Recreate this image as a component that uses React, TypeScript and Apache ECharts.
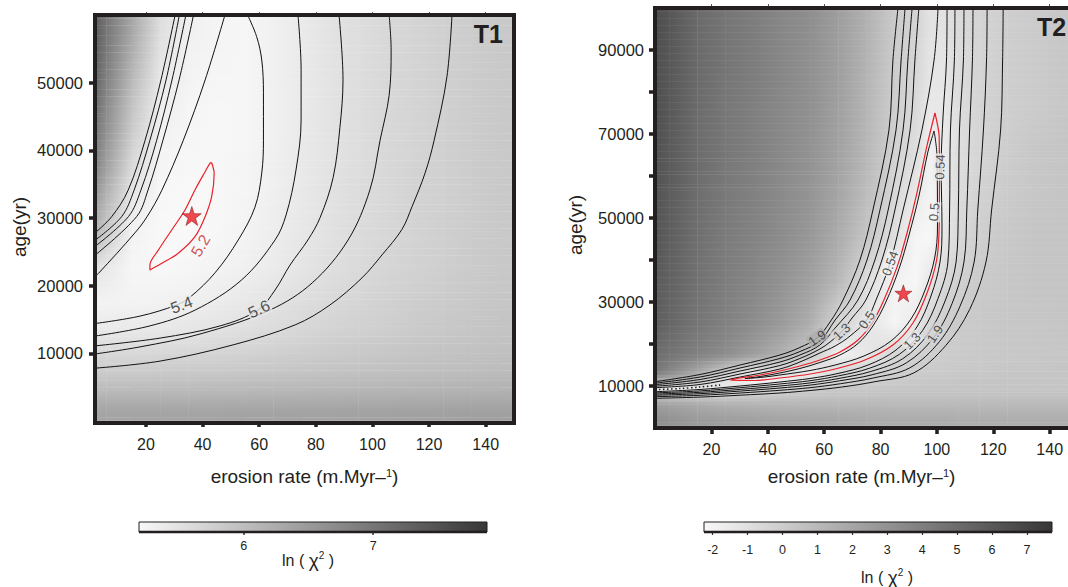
import React, { useEffect, useRef } from "react";
import * as echarts from "echarts";

const FONT = "'Liberation Sans', Arial, Helvetica, sans-serif";
const INK = "#231f20";

/* ================= Panel T1 ================= */
const T1_X_TICKS = [20, 40, 60, 80, 100, 120, 140];
const T1_Y_TICKS = [10000, 20000, 30000, 40000, 50000];
const T1_CBAR_TICKS = [6, 7];
const T1_CBAR_MIN = 5.19;
const T1_CBAR_MAX = 7.88;

// background ln(chi2) cells (rows bottom -> top)
const T1_X_EDGES = [2, 10, 20, 30, 40, 50, 60, 70, 80, 90, 100, 110, 120, 130, 140, 150];
const T1_Y_EDGES = [-300, 3000, 6000, 9000, 12000, 15000, 20000, 25000, 30000, 35000, 40000, 45000, 50000, 55000, 60000];
const T1_LN_CHI2 = [
  [6.36, 6.36, 6.36, 6.36, 6.36, 6.37, 6.37, 6.38, 6.38, 6.39, 6.39, 6.4, 6.4, 6.41, 6.41],
  [6.05, 6.05, 6.06, 6.06, 6.07, 6.08, 6.09, 6.1, 6.11, 6.12, 6.13, 6.14, 6.15, 6.16, 6.17],
  [5.8, 5.8, 5.81, 5.82, 5.83, 5.85, 5.87, 5.89, 5.91, 5.93, 5.95, 5.97, 5.99, 6.0, 6.02],
  [5.6, 5.6, 5.61, 5.63, 5.66, 5.69, 5.73, 5.77, 5.81, 5.84, 5.87, 5.9, 5.92, 5.94, 5.96],
  [5.4, 5.4, 5.42, 5.45, 5.49, 5.54, 5.6, 5.65, 5.7, 5.74, 5.78, 5.82, 5.86, 5.89, 5.92],
  [5.26, 5.27, 5.28, 5.31, 5.36, 5.42, 5.49, 5.56, 5.62, 5.68, 5.73, 5.78, 5.82, 5.86, 5.89],
  [5.4, 5.22, 5.2, 5.22, 5.26, 5.31, 5.38, 5.46, 5.54, 5.61, 5.67, 5.72, 5.77, 5.82, 5.86],
  [5.8, 5.27, 5.19, 5.19, 5.21, 5.26, 5.34, 5.43, 5.51, 5.59, 5.65, 5.71, 5.76, 5.81, 5.85],
  [6.1, 5.4, 5.2, 5.19, 5.2, 5.24, 5.32, 5.41, 5.5, 5.58, 5.64, 5.7, 5.75, 5.8, 5.84],
  [6.4, 5.6, 5.23, 5.2, 5.2, 5.23, 5.31, 5.4, 5.49, 5.57, 5.64, 5.7, 5.75, 5.8, 5.84],
  [6.6, 5.8, 5.28, 5.22, 5.2, 5.22, 5.3, 5.39, 5.48, 5.56, 5.63, 5.69, 5.75, 5.8, 5.84],
  [6.75, 5.95, 5.35, 5.24, 5.21, 5.22, 5.3, 5.39, 5.48, 5.56, 5.63, 5.69, 5.75, 5.8, 5.84],
  [6.9, 6.15, 5.45, 5.27, 5.23, 5.22, 5.3, 5.39, 5.48, 5.56, 5.63, 5.69, 5.75, 5.8, 5.84],
  [7.0, 6.3, 5.55, 5.3, 5.25, 5.22, 5.3, 5.39, 5.48, 5.56, 5.63, 5.69, 5.75, 5.8, 5.84],
];

// contour lines [erosion rate, age]
const T1_A1 = [[30.3, 60000], [25.3, 50400], [19.7, 41500], [13.7, 34100], [7.9, 30200], [2, 27800]];
const T1_A2 = [[31.8, 60000], [27.1, 50400], [21.4, 41500], [15.8, 34100], [11.4, 30200], [2, 26700]];
const T1_A3 = [[34.1, 60000], [29.2, 50400], [23.8, 41500], [18.2, 34100], [13.8, 30200], [2, 25800]];
const T1_A4 = [[36.8, 60000], [31.7, 50400], [26.0, 41500], [20.7, 34100], [16.7, 30200], [2, 24500]];
const T1_A5 = [[47.9, 60000], [40.9, 50400], [33.2, 41500], [25.6, 34100], [20.4, 30200], [16.1, 27800], [3.2, 21800], [2, 21400]];
const T1_B1 = [[55.9, 60000], [59.1, 56800], [60.9, 53350], [61.5, 48500], [61.5, 41500], [60.9, 36650], [58.5, 31600], [52.6, 26750], [44.4, 21900], [35.6, 18300], [30.9, 17150], [17.9, 15500], [2, 14400]];
const T1_B2 = [[73.7, 60000], [74.8, 51900], [74.8, 44500], [73.0, 37100], [69.5, 30450], [65.6, 26750], [53.8, 20850], [37.4, 16400], [21.4, 14050], [2, 12550]];
const T1_B3 = [[88.2, 60000], [89.6, 50400], [88.5, 43350], [86.1, 35950], [81.5, 30050], [77.2, 26750], [70.9, 23050], [65.6, 19350], [59.6, 16400], [46.2, 14050], [25.0, 12250], [2, 11100]];
const T1_B4 = [[105.9, 60000], [106.6, 54850], [105.9, 48150], [102.7, 41500], [99.1, 34150], [91.4, 26750], [78.7, 20400], [63.8, 16400], [39.1, 12850], [17.9, 10950], [2, 9900]];
const T1_B5 = [[128.1, 60000], [126.3, 50850], [121.8, 41500], [118.6, 36650], [114.0, 31700], [110.4, 28300], [103.4, 24550], [96.3, 21150], [85.0, 17150], [72.7, 14200], [50.8, 11250], [25.0, 8850], [2, 7800]];
const T1_CONTOURS = [T1_A1, T1_A2, T1_A3, T1_A4, T1_A5, T1_B1, T1_B2, T1_B3, T1_B4, T1_B5];
const T1_RED = [[43.2, 38170], [44.1, 36600], [43.2, 33140], [40.9, 30190], [37.3, 27230], [31.4, 24780], [25.6, 23300], [21.4, 22310], [21.4, 23050], [24.4, 25270], [29.1, 28230], [33.8, 31190], [37.3, 34140], [40.9, 36840], [42.6, 38080], [43.2, 38170]];
const T1_BEST = [36.2, 30300];
const T1_LABELS = [[32.6, 17150, "5.4", 20], [59.9, 16550, "5.6", 25]];
const T1_RED_LABELS = [[39.3, 25900, "5.2", 60]];

/* ================= Panel T2 ================= */
const T2_X_TICKS = [20, 40, 60, 80, 100, 120, 140];
const T2_Y_TICKS = [10000, 20000, 30000, 40000, 50000, 60000, 70000, 80000, 90000];
const T2_Y_LABELS = [10000, 30000, 50000, 70000, 90000];
const T2_CBAR_TICKS = [-2, -1, 0, 1, 2, 3, 4, 5, 6, 7];
const T2_CBAR_MIN = -2.25;
const T2_CBAR_MAX = 7.72;

const T2_X_EDGES = [0, 10, 20, 30, 40, 50, 60, 70, 80, 90, 95, 100, 105, 110, 120, 130, 140, 150];
const T2_Y_EDGES = [0, 4000, 7000, 8500, 10000, 12000, 15000, 20000, 30000, 40000, 50000, 60000, 70000, 80000, 90000, 100000];
const T2_LN_CHI2 = [
  [3.0, 2.6, 2.4, 2.3, 2.1, 2.0, 1.9, 1.8, 1.7, 1.7, 1.7, 1.7, 1.6, 1.6, 1.6, 1.6, 1.6],
  [2.2, 1.8, 1.5, 1.3, 1.2, 1.2, 1.1, 1.1, 1.0, 1.0, 1.0, 1.0, 1.0, 1.0, 1.0, 1.0, 1.0],
  [0.1, -0.2, -0.2, 0.1, 0.3, 0.4, 0.5, 0.5, 0.5, 0.5, 0.5, 0.5, 0.5, 0.5, 0.5, 0.5, 0.5],
  [-1.8, -1.8, -1.2, -0.5, -0.2, 0.1, 0.3, 0.3, 0.4, 0.4, 0.4, 0.4, 0.4, 0.4, 0.4, 0.4, 0.4],
  [1.2, 0.1, -1.4, -2.0, -1.8, -1.0, -0.4, -0.1, 0.1, 0.2, 0.3, 0.3, 0.4, 0.4, 0.4, 0.4, 0.4],
  [3.6, 2.0, 0.1, -1.2, -0.9, -1.7, -0.7, -0.4, -0.1, 0.0, 0.1, 0.1, 0.2, 0.2, 0.3, 0.3, 0.4],
  [4.6, 3.9, 3.3, 2.4, 1.4, 0.2, -1.9, -1.4, -0.5, -0.2, -0.1, 0.0, 0.1, 0.2, 0.2, 0.3, 0.3],
  [5.3, 4.5, 3.9, 3.3, 2.6, 1.6, -0.5, -1.2, -2.1, -1.4, -0.5, -0.1, 0.1, 0.2, 0.3, 0.3, 0.4],
  [5.5, 4.7, 4.1, 3.6, 3.0, 2.3, 1.1, -0.9, -1.9, -2.2, -1.3, -0.6, -0.2, 0.1, 0.3, 0.4, 0.4],
  [5.7, 4.8, 4.2, 3.8, 3.3, 2.7, 1.7, 0.3, -1.0, -2.1, -2.2, -1.3, -0.6, -0.1, 0.2, 0.4, 0.4],
  [5.8, 4.9, 4.3, 3.9, 3.4, 2.9, 2.0, 0.8, -0.6, -1.5, -2.0, -1.6, -0.8, -0.3, 0.1, 0.3, 0.4],
  [5.9, 5.0, 4.4, 4.0, 3.5, 3.0, 2.2, 1.1, -0.3, -0.9, -1.9, -1.6, -0.9, -0.4, 0.0, 0.3, 0.4],
  [6.0, 5.0, 4.4, 4.0, 3.5, 3.1, 2.3, 1.2, -0.1, -0.7, -1.5, -1.4, -0.9, -0.4, -0.1, 0.1, 0.3],
  [6.0, 5.1, 4.5, 4.1, 3.6, 3.1, 2.4, 1.3, 0.0, -0.5, -1.3, -1.3, -0.8, -0.4, -0.1, 0.1, 0.3],
  [6.1, 5.1, 4.5, 4.1, 3.6, 3.2, 2.4, 1.4, 0.1, -0.4, -1.1, -1.1, -0.7, -0.4, -0.1, 0.1, 0.3],
];

const T2_L1 = [[86.2, 100000], [84.4, 87620], [83.0, 71000], [77.3, 51910], [72.7, 40000], [66.7, 30480], [62.1, 25240], [57.5, 21430], [51.4, 19170], [44.3, 17380], [30.2, 15000], [16.0, 12740], [0, 11020]];
const T2_L2 = [[88.7, 100000], [87.3, 87620], [85.5, 71000], [79.8, 51910], [75.2, 40000], [69.2, 30480], [63.9, 25720], [58.5, 20710], [51.4, 18210], [44.3, 16550], [30.2, 14290], [16.0, 12140], [0, 10670]];
const T2_L3 = [[91.2, 100000], [89.7, 87620], [88.0, 71000], [82.7, 51910], [78.0, 40000], [72.0, 30480], [63.9, 23810], [58.5, 19760], [51.4, 17380], [44.3, 15710], [30.2, 13570], [16.0, 11550], [0, 10310]];
const T2_L4 = [[93.6, 100000], [92.2, 87620], [90.5, 71000], [85.1, 51910], [80.5, 40000], [74.8, 30480], [69.9, 26190], [66.2, 22930], [62.1, 20480], [58.5, 18810], [51.4, 16550], [44.3, 14880], [30.2, 12860], [16.0, 10950], [0, 9950]];
const T2_L5 = [[100.4, 100000], [99.0, 87620], [94.7, 71000], [88.0, 51910], [83.4, 39290], [78.4, 30480], [75.1, 25720], [69.2, 21910], [63.9, 19520], [58.5, 17860], [51.4, 15710], [44.3, 14050], [30.2, 12140], [16.0, 10360], [0, 9600]];
const T2_R0 = [[103.6, 100000], [103.4, 87620], [102.2, 74530], [101.5, 62140], [101.8, 47860], [101.1, 39520], [97.9, 31430], [92.9, 24050], [85.5, 18570], [75.6, 15000], [64.9, 12980], [55.0, 11790], [44.3, 10950], [30.2, 10000], [16.0, 9170], [0, 8640]];
const T2_R1 = [[106.4, 100000], [106.2, 87620], [104.8, 70950], [104.5, 51910], [103.9, 39520], [100.4, 30830], [94.9, 23190], [86.7, 17550], [76.0, 14210], [65.1, 12410], [55.0, 11260], [44.3, 10480], [30.2, 9600], [16.0, 8830], [0, 8360]];
const T2_R2 = [[109.6, 100000], [109.4, 87620], [108.0, 70950], [107.6, 51910], [106.8, 39520], [102.9, 30240], [96.8, 22330], [87.9, 16500], [76.5, 13450], [65.3, 11810], [55.0, 10740], [44.3, 10000], [30.2, 9190], [16.0, 8500], [0, 8070]];
const T2_R3 = [[112.8, 100000], [112.6, 87620], [111.6, 70950], [110.6, 51910], [109.6, 39520], [105.4, 29670], [98.8, 21500], [89.1, 15480], [77.0, 12670], [65.5, 11240], [55.0, 10210], [44.3, 9520], [30.2, 8790], [16.0, 8170], [0, 7790]];
const T2_R4 = [[117.8, 100000], [117.6, 87620], [116.5, 70950], [114.5, 51910], [113.2, 39520], [108.2, 29000], [100.9, 20570], [90.4, 14330], [77.4, 11900], [65.8, 10550], [55.0, 9600], [44.3, 8980], [30.2, 8330], [16.0, 7790], [0, 7450]];
const T2_R5 = [[123.5, 100000], [123.3, 87620], [122.6, 70950], [119.4, 51910], [117.4, 39520], [111.6, 28210], [103.1, 19600], [91.8, 13120], [78.0, 11020], [66.1, 9740], [55.0, 8930], [44.3, 8330], [30.2, 7810], [16.0, 7360], [0, 7070]];
const T2_C05 = [[99.0, 70720], [100.0, 65000], [100.2, 47860], [99.2, 40480], [95.8, 32860], [90.8, 25950], [83.7, 20710], [74.1, 17140], [63.9, 15000], [55.0, 13690], [44.3, 12620], [37.3, 12020], [31.9, 11790], [37.3, 12260], [44.3, 13100], [51.4, 14170], [58.5, 15600], [65.6, 17380], [72.0, 20120], [77.3, 24290], [81.9, 30000], [86.6, 37980], [90.1, 45950], [93.7, 55480], [96.8, 65720], [99.0, 70720]];
const T2_CONTOURS = [T2_L1, T2_L2, T2_L3, T2_L4, T2_L5, T2_R0, T2_R1, T2_R2, T2_R3, T2_R4, T2_R5, T2_C05];
const T2_RED = [[99.3, 75000], [100.8, 69290], [100.9, 59050], [100.8, 47860], [99.9, 40000], [96.5, 32140], [91.5, 25000], [84.4, 19760], [74.5, 16190], [63.9, 14050], [55.0, 12860], [44.3, 11900], [35.5, 11310], [26.6, 11430], [30.2, 11900], [37.3, 12620], [44.3, 13570], [51.4, 14760], [58.5, 16190], [65.6, 18100], [72.0, 20950], [77.0, 25000], [81.2, 30480], [85.9, 38410], [89.4, 46430], [92.9, 55950], [96.4, 66980], [99.3, 75000]];
const T2_FLOOR = [[0, 9120], [8.9, 9400], [16.0, 9760], [23.1, 10240]];
const T2_BEST = [88.1, 32070];
const T2_LABELS = [
  [57.5, 21430, "1.9", 35], [66.2, 22930, "1.3", 42], [75.1, 25720, "0.5", 55], [83.4, 39220, "0.54", 70],
  [101.1, 62140, "0.54", 88], [99.0, 51430, "0.5", 85], [91.2, 20710, "1.3", 45], [99.3, 22380, "1.9", 55],
];

/* ================= helpers ================= */
function grayOf(v, lo, hi) {
  let t = (v - lo) / (hi - lo);
  t = Math.max(0, Math.min(1, t));
  const g = Math.round(248 - 193 * t);
  return `rgb(${g},${g},${g})`;
}

function cellValueAt(xE, yE, grid, x, y) {
  let c = 0, r = 0;
  while (c < xE.length - 2 && x > xE[c + 1]) c++;
  while (r < yE.length - 2 && y > yE[r + 1]) r++;
  return grid[r][c];
}

// shading of the measured cells: colours blended between neighbouring cell centres
function shadeSeries(xi, yi, xE, yE, grid, lo, hi) {
  const nC = grid[0].length;
  const nR = grid.length;
  const xs = [xE[0]];
  for (let c = 0; c < nC; c++) xs.push((xE[c] + xE[c + 1]) / 2);
  xs.push(xE[nC]);
  const ys = [yE[0]];
  for (let r = 0; r < nR; r++) ys.push((yE[r] + yE[r + 1]) / 2);
  ys.push(yE[nR]);
  const node = (j, i) => {
    const r = Math.min(Math.max(j - 1, 0), nR - 1);
    if (i === 0) {
      const v1 = grid[r][0];
      const v2 = grid[r][1];
      return v1 + (v1 - v2) * 0.5;
    }
    const c = Math.min(i - 1, nC - 1);
    return grid[r][c];
  };
  const data = [];
  for (let j = 0; j < ys.length - 1; j++)
    for (let i = 0; i < xs.length - 1; i++)
      data.push([(xs[i] + xs[i + 1]) / 2, (ys[j] + ys[j + 1]) / 2, i, j]);
  return {
    type: "custom",
    xAxisIndex: xi,
    yAxisIndex: yi,
    silent: true,
    clip: true,
    z: 1,
    encode: { x: 0, y: 1 },
    data,
    renderItem: (_p, api) => {
      const i = api.value(2);
      const j = api.value(3);
      const p0 = api.coord([xs[i], ys[j + 1]]);
      const p1 = api.coord([xs[i + 1], ys[j]]);
      const w = p1[0] - p0[0];
      const h = p1[1] - p0[1];
      if (w <= 0 || h <= 0) return null;
      const k = Math.max(1, Math.ceil(h / 3.5));
      const bl = node(j, i), br = node(j, i + 1), tl = node(j + 1, i), tr = node(j + 1, i + 1);
      const children = [];
      for (let s = 0; s < k; s++) {
        const f = 1 - (s + 0.5) / k;
        const vl = bl + (tl - bl) * f;
        const vr = br + (tr - br) * f;
        children.push({
          type: "rect",
          shape: { x: p0[0], y: p0[1] + (s * h) / k, width: w + 0.4, height: h / k + 0.4 },
          style: {
            fill: new echarts.graphic.LinearGradient(0, 0, 1, 0, [
              { offset: 0, color: grayOf(vl, lo, hi) },
              { offset: 1, color: grayOf(vr, lo, hi) },
            ]),
          },
        });
      }
      return { type: "group", children };
    },
  };
}

function lineSeries(data, xi, yi, color, width, smooth, type) {
  return {
    type: "line",
    xAxisIndex: xi,
    yAxisIndex: yi,
    data,
    symbol: "none",
    smooth,
    silent: true,
    z: 3,
    lineStyle: { color, width, type: type || "solid" },
  };
}

function labelSeries(items, xi, yi, color, size, bgFn) {
  return {
    type: "scatter",
    xAxisIndex: xi,
    yAxisIndex: yi,
    symbolSize: 1,
    silent: true,
    z: 4,
    itemStyle: { color: "rgba(0,0,0,0)" },
    data: items.map(([x, y, t, rot]) => ({
      value: [x, y],
      name: t,
      label: { rotate: rot, backgroundColor: bgFn(x, y) },
    })),
    label: {
      show: true,
      position: "inside",
      formatter: (p) => p.name,
      color,
      fontSize: size,
      fontFamily: FONT,
      padding: [0, 1],
    },
  };
}

const STAR = "path://M50,0 L61.8,35.1 L98.9,35.1 L69,57.3 L80.2,92.7 L50,71 L19.8,92.7 L31,57.3 L1.1,35.1 L38.2,35.1 Z";

function starSeries(pt, xi, yi, size) {
  return {
    type: "scatter",
    xAxisIndex: xi,
    yAxisIndex: yi,
    data: [pt],
    symbol: STAR,
    symbolSize: size,
    silent: true,
    z: 6,
    itemStyle: { color: "#ec1c24", borderColor: "#7a0a0a", borderWidth: 0.6 },
  };
}

/* ================= layout ================= */
const G1 = { left: 95, top: 15, width: 419, height: 408 };
const G2 = { left: 655, top: 8, width: 413, height: 420 };
const CB1 = { left: 139, top: 522, width: 348, height: 10 };
const CB2 = { left: 704, top: 522, width: 348, height: 10 };

function buildOption() {
  const thick = { length: 6, lineStyle: { width: 3.5, color: INK } };
  const tickLabel = { fontSize: 16, color: INK, fontFamily: FONT, formatter: (v) => String(v) };
  const nameStyle = {
    fontSize: 19,
    color: INK,
    fontFamily: FONT,
    rich: { s: { fontSize: 11, color: INK, fontFamily: FONT, verticalAlign: "top" } },
  };
  const bg1 = (x, y) => grayOf(cellValueAt(T1_X_EDGES, T1_Y_EDGES, T1_LN_CHI2, x, y), T1_CBAR_MIN, T1_CBAR_MAX);
  const bg2 = (x, y) => grayOf(cellValueAt(T2_X_EDGES, T2_Y_EDGES, T2_LN_CHI2, x, y), T2_CBAR_MIN, T2_CBAR_MAX);

  const series = [
    shadeSeries(0, 0, T1_X_EDGES, T1_Y_EDGES, T1_LN_CHI2, T1_CBAR_MIN, T1_CBAR_MAX),
    shadeSeries(2, 1, T2_X_EDGES, T2_Y_EDGES, T2_LN_CHI2, T2_CBAR_MIN, T2_CBAR_MAX),
    ...T1_CONTOURS.map((d) => lineSeries(d, 0, 0, "#111111", 1, 0.35)),
    lineSeries(T1_RED, 0, 0, "#e8202a", 1.2, 0.3),
    ...T2_CONTOURS.map((d) => lineSeries(d, 2, 1, "#111111", 1, 0.35)),
    lineSeries(T2_RED, 2, 1, "#e8202a", 1.2, 0.3),
    lineSeries(T2_FLOOR, 2, 1, "#222222", 1.6, 0.3, [1.5, 2.5]),
    labelSeries(T1_LABELS, 0, 0, "#2a2a2a", 16, bg1),
    labelSeries(T1_RED_LABELS, 0, 0, "#c1272d", 16, bg1),
    labelSeries(T2_LABELS, 2, 1, "#2a2a2a", 13, bg2),
    starSeries(T1_BEST, 0, 0, 19),
    starSeries(T2_BEST, 2, 1, 17),
  ];

  const frame = (g, extraRight) => ({
    type: "rect",
    z: 50,
    silent: true,
    shape: { x: g.left, y: g.top, width: g.width + extraRight, height: g.height },
    style: { fill: "none", stroke: INK, lineWidth: 4 },
  });

  const cbar = (g) => [
    {
      type: "rect",
      z: 50,
      silent: true,
      shape: { x: g.left, y: g.top, width: g.width, height: g.height },
      style: {
        fill: new echarts.graphic.LinearGradient(0, 0, 1, 0, [
          { offset: 0, color: "rgb(248,248,248)" },
          { offset: 1, color: "rgb(55,55,55)" },
        ]),
        stroke: INK,
        lineWidth: 1,
      },
    },
    {
      type: "line",
      z: 51,
      silent: true,
      shape: { x1: g.left, y1: g.top + g.height, x2: g.left + g.width, y2: g.top + g.height },
      style: { stroke: INK, lineWidth: 2.5 },
    },
  ];

  const chiTitle = (x, y) => ({
    type: "text",
    z: 51,
    silent: true,
    x,
    y,
    style: {
      text: "ln ( {c|χ}{s|2} )",
      fontSize: 16,
      fontFamily: FONT,
      fill: INK,
      align: "center",
      verticalAlign: "middle",
      rich: {
        c: { fontSize: 19, fontFamily: FONT, fill: INK },
        s: { fontSize: 10, fontFamily: FONT, fill: INK, verticalAlign: "top" },
      },
    },
  });

  const yName = (x, y) => ({
    type: "text",
    z: 51,
    silent: true,
    x,
    y,
    rotation: Math.PI / 2,
    style: { text: "age(yr)", fontSize: 19, fontFamily: FONT, fill: INK, align: "center", verticalAlign: "middle" },
  });

  return {
    animation: false,
    backgroundColor: "#ffffff",
    textStyle: { fontFamily: FONT },
    grid: [G1, G2, CB1, CB2],
    xAxis: [
      {
        gridIndex: 0, type: "value", min: 2, max: 150, position: "bottom",
        axisLine: { show: false }, splitLine: { show: false },
        axisTick: { show: true, customValues: T1_X_TICKS, ...thick },
        axisLabel: { customValues: T1_X_TICKS, margin: 13, ...tickLabel },
        name: "erosion rate (m.Myr–{s|1})", nameLocation: "middle", nameGap: 44, nameTextStyle: nameStyle,
      },
      {
        gridIndex: 0, type: "value", min: 2, max: 150, position: "top",
        axisLine: { show: false }, splitLine: { show: false }, axisLabel: { show: false },
        axisTick: { show: true, customValues: T1_X_TICKS, length: 3, lineStyle: { width: 1, color: "#666" } },
      },
      {
        gridIndex: 1, type: "value", min: 0, max: 146.5, position: "bottom",
        axisLine: { show: false }, splitLine: { show: false },
        axisTick: { show: true, customValues: T2_X_TICKS, ...thick },
        axisLabel: { customValues: T2_X_TICKS, margin: 13, ...tickLabel },
        name: "erosion rate (m.Myr–{s|1})", nameLocation: "middle", nameGap: 39, nameTextStyle: nameStyle,
      },
      {
        gridIndex: 1, type: "value", min: 0, max: 146.5, position: "top",
        axisLine: { show: false }, splitLine: { show: false }, axisLabel: { show: false },
        axisTick: { show: true, customValues: T2_X_TICKS, length: 4, lineStyle: { width: 1, color: "#555" } },
      },
      {
        gridIndex: 2, type: "value", min: T1_CBAR_MIN, max: T1_CBAR_MAX,
        axisLine: { show: false }, splitLine: { show: false },
        axisTick: { show: true, customValues: T1_CBAR_TICKS, length: 3, lineStyle: { width: 1.5, color: "#333" } },
        axisLabel: { customValues: T1_CBAR_TICKS, margin: 7, fontSize: 12.5, color: INK, formatter: (v) => String(v) },
      },
      {
        gridIndex: 3, type: "value", min: T2_CBAR_MIN, max: T2_CBAR_MAX,
        axisLine: { show: false }, splitLine: { show: false },
        axisTick: { show: true, customValues: T2_CBAR_TICKS, length: 3, lineStyle: { width: 1.2, color: "#333" } },
        axisLabel: { customValues: T2_CBAR_TICKS, margin: 11, fontSize: 12.5, color: INK, formatter: (v) => String(v) },
      },
    ],
    yAxis: [
      {
        gridIndex: 0, type: "value", min: -300, max: 60000,
        axisLine: { show: false }, splitLine: { show: false },
        axisTick: { show: true, customValues: T1_Y_TICKS, ...thick },
        axisLabel: { customValues: T1_Y_TICKS, margin: 12, ...tickLabel, fontSize: 16.5 },
      },
      {
        gridIndex: 1, type: "value", min: 0, max: 100000,
        axisLine: { show: false }, splitLine: { show: false },
        axisTick: { show: true, customValues: T2_Y_TICKS, ...thick },
        axisLabel: { customValues: T2_Y_LABELS, margin: 11, ...tickLabel, fontSize: 16.5 },
      },
      { gridIndex: 2, type: "value", show: false, min: 0, max: 1 },
      { gridIndex: 3, type: "value", show: false, min: 0, max: 1 },
    ],
    series,
    graphic: [
      frame(G1, 0),
      frame(G2, 12),
      {
        type: "text", z: 52, silent: true, x: G1.left + G1.width - 11, y: 21,
        style: { text: "T1", font: `bold 25px ${FONT}`, fill: INK, align: "right", verticalAlign: "top" },
      },
      {
        type: "text", z: 52, silent: true, x: 1037, y: 14,
        style: { text: "T2", font: `bold 25px ${FONT}`, fill: INK, align: "left", verticalAlign: "top" },
      },
      yName(19, 227),
      yName(575, 225),
      ...cbar(CB1),
      ...cbar(CB2),
      chiTitle(308, 560),
      chiTitle(887, 577),
    ],
  };
}

export default function App() {
  const ref = useRef(null);
  useEffect(() => {
    document.body.style.margin = "0";
    const chart = echarts.init(ref.current, null, { renderer: "svg" });
    chart.setOption(buildOption());
    return () => chart.dispose();
  }, []);
  return <div ref={ref} style={{ width: 1068, height: 587, position: "absolute", left: 0, top: 0 }} />;
}
